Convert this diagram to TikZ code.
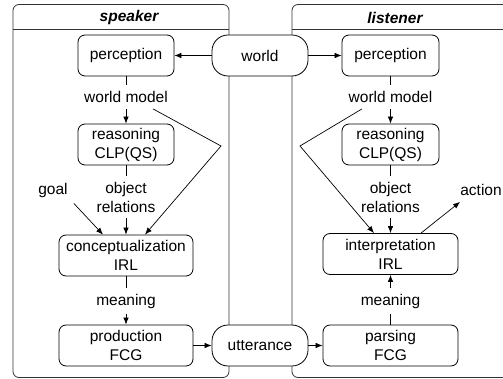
\documentclass[tikz,border=0pt]{standalone}
\usepackage{fontspec}
\setmainfont{Liberation Sans}
\usetikzlibrary{arrows.meta,calc}
\begin{document}
\begin{tikzpicture}[x=1pt,y=-1pt,
  font=\fontsize{15.5}{19}\selectfont,
  box/.style={draw, line width=0.8pt, rounded corners=7pt, fill=white, align=center, minimum height=41pt, inner sep=0pt},
  pill/.style={box, rounded corners=16pt},
  lbl/.style={align=center, inner sep=6pt},
  arr/.style={-{Latex[length=7pt,width=5.5pt]}, line width=0.7pt},
  tick/.style={line width=0.7pt},
  frame/.style={draw=black!80, line width=0.8pt, rounded corners=6pt},
  hdr/.style={font=\fontsize{15.5}{19}\selectfont\bfseries\itshape}]
\clip (0,0) rectangle (503,379);
% frames
\draw[frame] (13,4.5) rectangle (229,377.5);
\draw[draw=black!80, line width=0.8pt] (13,29.5) -- (229,29.5);
\draw[frame] (292,4.5) rectangle (530,377.5);
\draw[draw=black!80, line width=0.8pt] (292,29.5) -- (530,29.5);
\node[hdr] (sp) at (129,17.5) {speaker};
\node[hdr] (li) at (395,17.5) {listener};
% speaker
\node[box, minimum width=96pt] (sperc) at (126,55.5) {perception};
\node[lbl] (swm) at (126,97) {world model};
\node[box, minimum width=96pt] (sreas) at (126,144.5) {reasoning\\CLP(QS)};
\node[lbl] (sor) at (126,197) {object\\relations};
\node[lbl] (goal) at (53,190) {goal};
\node[box, minimum width=134pt] (sconc) at (126,255.5) {conceptualization\\IRL};
\node[lbl] (smean) at (126,301) {meaning};
\node[box, minimum width=134pt] (sprod) at (126,345.5) {production\\FCG};
% middle
\node[pill, minimum width=96pt] (world) at (260,55.5) {world};
\node[pill, minimum width=96pt] (utt) at (260,345.5) {utterance};
% listener
\node[box, minimum width=97pt] (lperc) at (390.5,55.5) {perception};
\node[lbl] (lwm) at (390.5,97) {world model};
\node[box, minimum width=97pt] (lreas) at (390.5,144.5) {reasoning\\CLP(QS)};
\node[lbl] (lor) at (390.5,197) {object\\relations};
\node[box, minimum width=135pt] (linterp) at (390.5,254) {interpretation\\IRL};
\node[lbl] (lmean) at (390.5,301) {meaning};
\node[box, minimum width=135pt] (lpars) at (390.5,345.5) {parsing\\FCG};
\node[lbl] (action) at (481,190) {action};
% connectors across
\draw[arr] (world.west) -- (sperc.east);
\draw[arr] (world.east) -- (lperc.west);
\draw[arr] (sprod.east) -- (utt.west);
\draw[arr] (utt.east) -- (lpars.west);
% speaker connectors
\draw[tick] (sperc.south) -- (swm.north);
\draw[arr] (swm.south) -- (sreas.north);
\draw[tick] (sreas.south) -- (sor.north);
\draw[arr] (sor.south) -- (sconc.north);
\draw[arr] (goal.south east) -- ([xshift=-23pt]sconc.north);
\coordinate (sbend) at (221,146);
\draw[arr] ([xshift=27pt]swm.south) -- (sbend) -- ([xshift=19pt]sconc.north);
\draw[tick] (sconc.south) -- (smean.north);
\draw[arr] (smean.south) -- (sprod.north);
% listener connectors
\draw[tick] (lperc.south) -- (lwm.north);
\draw[arr] (lwm.south) -- (lreas.north);
\draw[tick] (lreas.south) -- (lor.north);
\draw[arr] (lor.south) -- (linterp.north);
\coordinate (lbend) at (300,146);
\draw[arr] ([xshift=-28.5pt]lwm.south) -- (lbend) -- ([xshift=-16.5pt]linterp.north);
\draw[arr] ([xshift=30.5pt]linterp.north) -- ([xshift=6pt]action.south west);
\draw[tick] (lpars.north) -- (lmean.south);
\draw[arr] (lmean.north) -- (linterp.south);
\end{tikzpicture}
\end{document}
